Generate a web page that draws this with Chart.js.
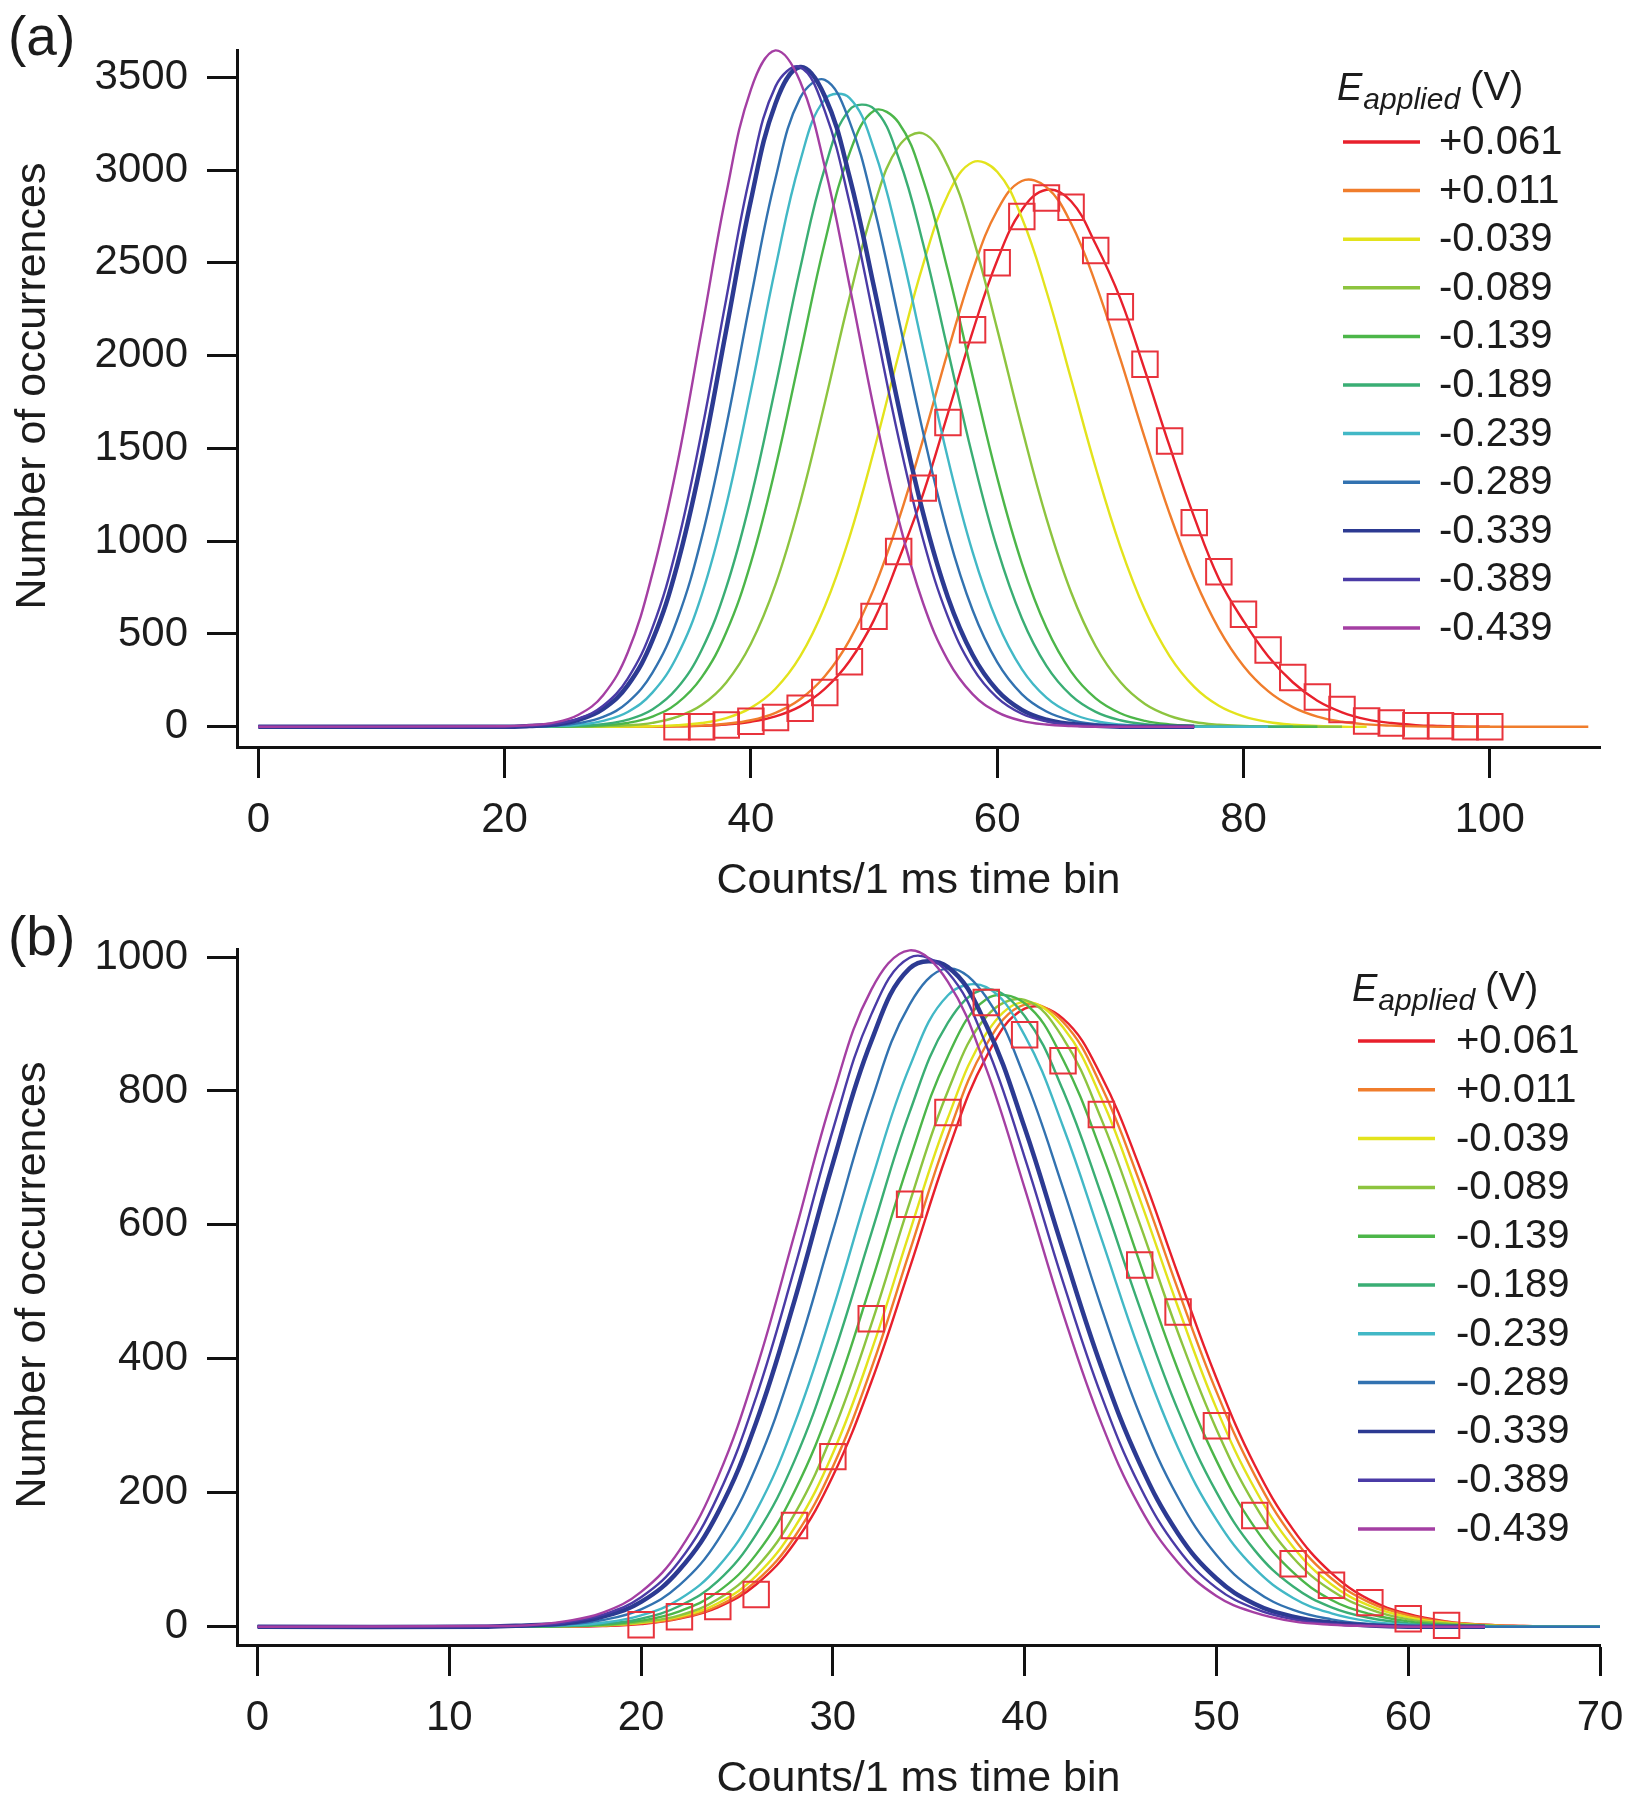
<!DOCTYPE html>
<html>
<head>
<meta charset="utf-8">
<title>Count histograms vs applied potential</title>
<script src="https://cdn.jsdelivr.net/npm/chart.js@4.4.0/dist/chart.umd.min.js"></script>
<style>
  html, body { margin: 0; padding: 0; background: #fff; }
  #wrap { position: relative; width: 1628px; height: 1800px; }
  #wrap canvas { position: absolute; left: 0; top: 0; }
</style>
</head>
<body>
<div id="wrap">
  <canvas id="chart-a" width="1628" height="1800"></canvas>
  <canvas id="chart-b" width="1628" height="1800"></canvas>
</div>
<script>
// ── Data ──────────────────────────────────────────────────
const potentials = ['+0.061', '+0.011', '-0.039', '-0.089', '-0.139', '-0.189', '-0.239', '-0.289', '-0.339', '-0.389', '-0.439'];

// panel (a): counts per bin (x) and occurrences per potential
const countsA = [0, 20, 22, 24, 26, 28, 30, 32, 34, 36, 38, 40, 42, 44, 46, 48, 50, 52, 54, 56, 58, 60, 62, 64, 66, 68, 70, 72, 74, 76, 78, 80, 82, 84, 86, 88, 90, 92, 94, 96, 98, 100, 102, 104, 106, 108];
const a_p061 = [0, 0,0,0,0,0,0,0, 2,5,12,27,56,110,204,353,576,900, 1258,1689,2128,2513,2785,2894,2832,2600,2307,1919, 1512,1130,798,570,380,240,140,78,40,20, 9,4,0,0, null,null,null,null];
const a_p011 = [0, 0,0,0,0,0,0,0, 2,6,16,35,75,148,272,466,746,1115, 1553,2023,2457,2782,2941,2908,2713,2387,1982,1553, 1149,802,528,328,192,106,55,27,13,6, 2,0,0,0,0,0,0,0];
const a_m039 = [0, 0,0,0,0,0, 1,3,8,20,47, 102,205,379,648,1021, 1490,2006,2495,2867,3042, 2991,2743,2347,1874,1396, 970,629,381,215,113, 56,26,11,4,0,0, null,null,null,null,null,null,null,null,null];
const a_m089 = [0, 0,0,0,1,3, 8,21,53,117,239, 447,767,1208,1745,2310, 2807,3128,3197,3020,2643, 2143,1612,1123,725,434, 241,123,59,26,11, 4,0,0,0,0, null,null,null,null,null,null,null,null,null,null];
const a_m139 = [0, 0,0,1,2,8, 21,55,126,266,509, 885,1397,2004,2610,3089, 3320,3255,2944,2457,1891, 1343,881,533,297,153, 73,32,13,5,0, 0,0,0,0, null,null,null,null,null,null,null,null,null,null,null];
const a_m189 = [0, 0,0,1,5,14, 38,93,207,414,751, 1233,1834,2469,3010,3324, 3330,3065,2599,2027,1456, 961,585,328,169,80, 35,14,5,0,0, 0,0,0, null,null,null,null,null,null,null,null,null,null,null,null];
const a_m239 = [0, 0,1,4,11,32, 80,184,380,710,1194, 1811,2475,3047,3381,3389, 3112,2625,2032,1444,943, 565,311,157,73,31, 12,4,0,0,0, 0,0, null,null,null,null,null,null,null,null,null,null,null,null,null];
const a_m289 = [0, 0,2,6,20,53, 131,290,574,1018,1620, 2312,2956,3389,3486,3264, 2799,2198,1582,1041,629, 348,176,82,35,14, 5,0,0,0, null,null,null,null,null,null,null,null,null,null,null,null,null,null,null,null];
const a_m339 = [0, 0,4,12,37,96, 223,465,866,1438,2139, 2837,3359,3555,3398,2966, 2368,1725,1147,697,388, 197,91,38,15,5, 0,0,0,0, null,null,null,null,null,null,null,null,null,null,null,null,null,null,null,null];
const a_m389 = [0, 1,5,15,44,113, 260,533,975,1590,2307, 2991,3451,3555,3319,2827, 2196,1554,1005,592,319, 157,70,29,11,4, 0,0,0,0, null,null,null,null,null,null,null,null,null,null,null,null,null,null,null,null];
const a_m439 = [0, 3,9,22,65,170, 400,825,1409,2136,2872, 3434,3645,3477,3018,2381, 1710,1115,663,358,176, 79,32,12,4,0, 0,0,0,0, null,null,null,null,null,null,null,null,null,null,null,null,null,null,null,null];
const squaresAX = [34, 36, 38, 40, 42, 44, 46, 48, 50, 52, 54, 56, 58, 60, 62, 64, 66, 68, 70, 72, 74, 76, 78, 80, 82, 84, 86, 88, 90, 92, 94, 96, 98, 100];
const squaresAY = [0, 0, 10, 30, 50, 100, 185, 350, 595, 945, 1286, 1640, 2140, 2500, 2750, 2850, 2800, 2566, 2263, 1954, 1540, 1100, 835, 606, 414, 266, 160, 93, 31, 20, 6, 6, 0, 0];
const xTicksA = [0, 20, 40, 60, 80, 100];
const yTicksA = [0, 500, 1000, 1500, 2000, 2500, 3000, 3500];

// panel (b)
const countsB = [0, 12, 14, 16, 18, 20, 22, 24, 26, 28, 30, 32, 34, 36, 38, 40, 42, 44, 46, 48, 50, 52, 54, 56, 58, 60, 62, 64, 66, 68, 70];
const b_p061 = [0, 0,0,0,1,4, 12,29,63,125,225, 365,535,710,851,923, 908,822,686,526,371, 241,145,80,40,19, 8,3,1,0,0];
const b_p011 = [0, 0,0,0,2,5, 13,31,68,134,239, 385,560,734,869,929, 903,807,664,503,351, 226,133,72,36,17, 7,3,1,0,0];
const b_m039 = [0, 0,0,1,2,6, 15,35,76,148,259, 411,589,760,886,933, 895,789,639,477,326, 206,119,63,31,14, 6,2,0,0,0];
const b_m089 = [0, 0,0,1,2,7, 17,41,88,168,290, 451,633,800,911,936, 879,758,602,439,295, 182,103,54,26,11, 5,2,0,0,0];
const b_m139 = [0, 0,0,1,3,9, 23,52,108,202,339, 513,697,852,937,931, 847,709,544,383,248, 148,81,40,19,8, 3,1,0,0,0];
const b_m189 = [0, 0,0,1,4,12, 31,68,138,248,403, 587,768,902,952,912, 801,645,477,323,201, 114,60,29,13,5, 2,0,0,0,0];
const b_m239 = [0, 0,1,2,6,17, 41,89,173,303,474, 665,836,943,955,883, 747,580,411,267,160, 87,43,20,8,3, 1,0,0,0,0];
const b_m289 = [0, 0,1,3,10,26, 62,129,239,398,591, 784,929,983,940,820, 655,477,317,193,107, 54,25,11,4,1, 0,0,0,0,0];
const b_m339 = [0, 0,2,5,15,37, 85,170,305,487,692, 874,983,985,898,745, 563,388,244,139,72, 34,15,6,2,0, 0,0,null,null,null];
const b_m389 = [0, 1,2,6,18,44, 98,195,343,535,742, 914,999,977,868,701, 515,345,210,116,58, 27,11,4,2,0, 0,0,null,null,null];
const b_m439 = [0, 1,2,8,21,52, 114,223,384,586,793, 951,1010,963,833,655, 468,304,179,96,46, 21,8,3,1,0, 0,0,null,null,null];
const squaresBX = [20, 22, 24, 26, 28, 30, 32, 34, 36, 38, 40, 42, 44, 46, 48, 50, 52, 54, 56, 58, 60, 62];
const squaresBY = [3, 15, 30, 48, 151, 254, 460, 631, 768, 932, 884, 845, 765, 540, 470, 300, 166, 94, 62, 36, 12, 2];
const xTicksB = [0, 10, 20, 30, 40, 50, 60, 70];
const yTicksB = [0, 200, 400, 600, 800, 1000];

// ── Styling ───────────────────────────────────────────────
const FONT = "'Liberation Sans', Arial, Helvetica, sans-serif";
const INK = '#1c1c1c';
const lineColors = ['#E8202C', '#F07D2C', '#E3E31C', '#8DC43F', '#4CB649', '#3AAE74', '#42B8C6', '#3272B0', '#2C3A92', '#4A3BA6', '#A43FA3'];

Chart.defaults.font.family = FONT;
Chart.defaults.color = INK;

function lineSets(xs, series) {
    return series.map((vals, i) => ({
        label: potentials[i],
        data: xs.map((x, j) => ({ x: x, y: vals[j] })),
        borderColor: lineColors[i],
        backgroundColor: lineColors[i],
        borderWidth: potentials[i] === '-0.339' ? 4.5 : 2.4,
        pointRadius: 0,
        tension: 0.4,
        fill: false,
        clip: false,
        // more negative potentials sit on top, as in the original
        order: series.length - i
    }));
}

function squareSet(xs, ys) {
    return {
        label: 'data',
        data: xs.map((x, j) => ({ x: x, y: ys[j] })),
        showLine: false,
        pointStyle: 'rect',
        pointRadius: 18,
        pointHoverRadius: 18,
        pointBorderWidth: 2,
        pointBorderColor: '#E8333C',
        pointBackgroundColor: 'rgba(0,0,0,0)',
        borderColor: '#E8333C',
        clip: false,
        order: 0
    };
}

function noEdgePadding(s) {
    s.paddingLeft = 0; s.paddingRight = 0; s.paddingTop = 0; s.paddingBottom = 0;
}

function makeScales(o) {
    return {
        x: {
            type: 'linear', min: o.xMin, max: o.xMax,
            afterFit: s => { s.height = 155; noEdgePadding(s); },
            afterBuildTicks: s => { s.ticks = o.xTicks.map(v => ({ value: v })); },
            grid: { drawOnChartArea: false, drawTicks: true, tickLength: 31, tickWidth: 3, tickColor: '#111' },
            border: { display: true, width: 3, color: '#111' },
            ticks: { padding: 17, font: { size: 42 }, color: INK, maxRotation: 0, autoSkip: false, callback: v => String(v) },
            title: { display: true, text: 'Counts/1 ms time bin', font: { size: 43 }, color: INK, padding: { top: 0, bottom: -5 } }
        },
        y: {
            type: 'linear', min: o.yMin, max: o.yMax,
            afterFit: s => { s.width = 237; noEdgePadding(s); },
            afterBuildTicks: s => { s.ticks = o.yTicks.map(v => ({ value: v })); },
            grid: { drawOnChartArea: false, drawTicks: true, tickLength: 30, tickWidth: 3, tickColor: '#111' },
            border: { display: true, width: 3, color: '#111' },
            ticks: { padding: 19, font: { size: 42 }, color: INK, autoSkip: false, callback: v => String(v) },
            title: { display: false }
        }
    };
}

// ── Panel tag, y title + legend ───────────────────────────
const panelDeco = {
    id: 'panelDeco',
    afterDraw(chart, args, o) {
        const ctx = chart.ctx;
        ctx.save();
        ctx.fillStyle = INK;
        ctx.textAlign = 'left';
        ctx.textBaseline = 'alphabetic';
        ctx.font = '55px ' + FONT;
        ctx.fillText(o.tag, o.tagX, o.tagY);

        // y axis title
        ctx.save();
        ctx.translate(o.yTitleX, o.yTitleY);
        ctx.rotate(-Math.PI / 2);
        ctx.textAlign = 'center';
        ctx.textBaseline = 'middle';
        ctx.font = '43px ' + FONT;
        ctx.fillText('Number of occurrences', 0, 0);
        ctx.restore();

        // legend title: E_applied (V)
        ctx.font = 'italic 38px ' + FONT;
        ctx.fillText('E', o.titleX, o.titleY);
        let x = o.titleX + ctx.measureText('E').width + 1;
        ctx.font = 'italic 30px ' + FONT;
        ctx.fillText('applied', x, o.titleY + 9);
        x += ctx.measureText('applied').width + 10;
        ctx.font = '40px ' + FONT;
        ctx.fillText('(V)', x, o.titleY);

        ctx.textBaseline = 'middle';
        ctx.lineWidth = 3.5;
        potentials.forEach((p, i) => {
            const y = o.firstY + i * o.step;
            ctx.strokeStyle = lineColors[i];
            ctx.beginPath();
            ctx.moveTo(o.lineX, y);
            ctx.lineTo(o.lineX + 77, y);
            ctx.stroke();
            ctx.fillText(p, o.textX, y + 1);
        });
        ctx.restore();
    }
};

function buildPanel(canvasId, cfg) {
    const ctx = document.getElementById(canvasId).getContext('2d');
    return new Chart(ctx, {
        type: 'line',
        data: { datasets: [squareSet(cfg.sqX, cfg.sqY)].concat(lineSets(cfg.xs, cfg.series)) },
        options: {
            responsive: false,
            animation: false,
            events: [],
            layout: { padding: cfg.padding },
            plugins: {
                legend: { display: false },
                tooltip: { enabled: false },
                panelDeco: cfg.deco
            },
            scales: makeScales(cfg.axes)
        },
        plugins: [panelDeco]
    });
}

buildPanel('chart-a', {
    xs: countsA,
    series: [a_p061, a_p011, a_m039, a_m089, a_m139, a_m189, a_m239, a_m289, a_m339, a_m389, a_m439],
    sqX: squaresAX, sqY: squaresAY,
    padding: { left: 0, right: 28, top: 50, bottom: 898 },
    axes: { xMin: -1.73, xMax: 108.95, yMin: -109, yMax: 3647, xTicks: xTicksA, yTicks: yTicksA },
    deco: { tag: '(a)', tagX: 8, tagY: 55, yTitleX: 33, yTitleY: 386, titleX: 1337, titleY: 100, lineX: 1343, textX: 1439, firstY: 142, step: 48.6 }
});

buildPanel('chart-b', {
    xs: countsB,
    series: [b_p061, b_p011, b_m039, b_m089, b_m139, b_m189, b_m239, b_m289, b_m339, b_m389, b_m439],
    sqX: squaresBX, sqY: squaresBY,
    padding: { left: 0, right: 28, top: 949, bottom: 0 },
    axes: { xMin: -1.07, xMax: 70, yMin: -27.3, yMax: 1012, xTicks: xTicksB, yTicks: yTicksB },
    deco: { tag: '(b)', tagX: 8, tagY: 955, yTitleX: 33, yTitleY: 1285, titleX: 1352, titleY: 1001, lineX: 1358, textX: 1456, firstY: 1041, step: 48.8 }
});
</script>
</body>
</html>
